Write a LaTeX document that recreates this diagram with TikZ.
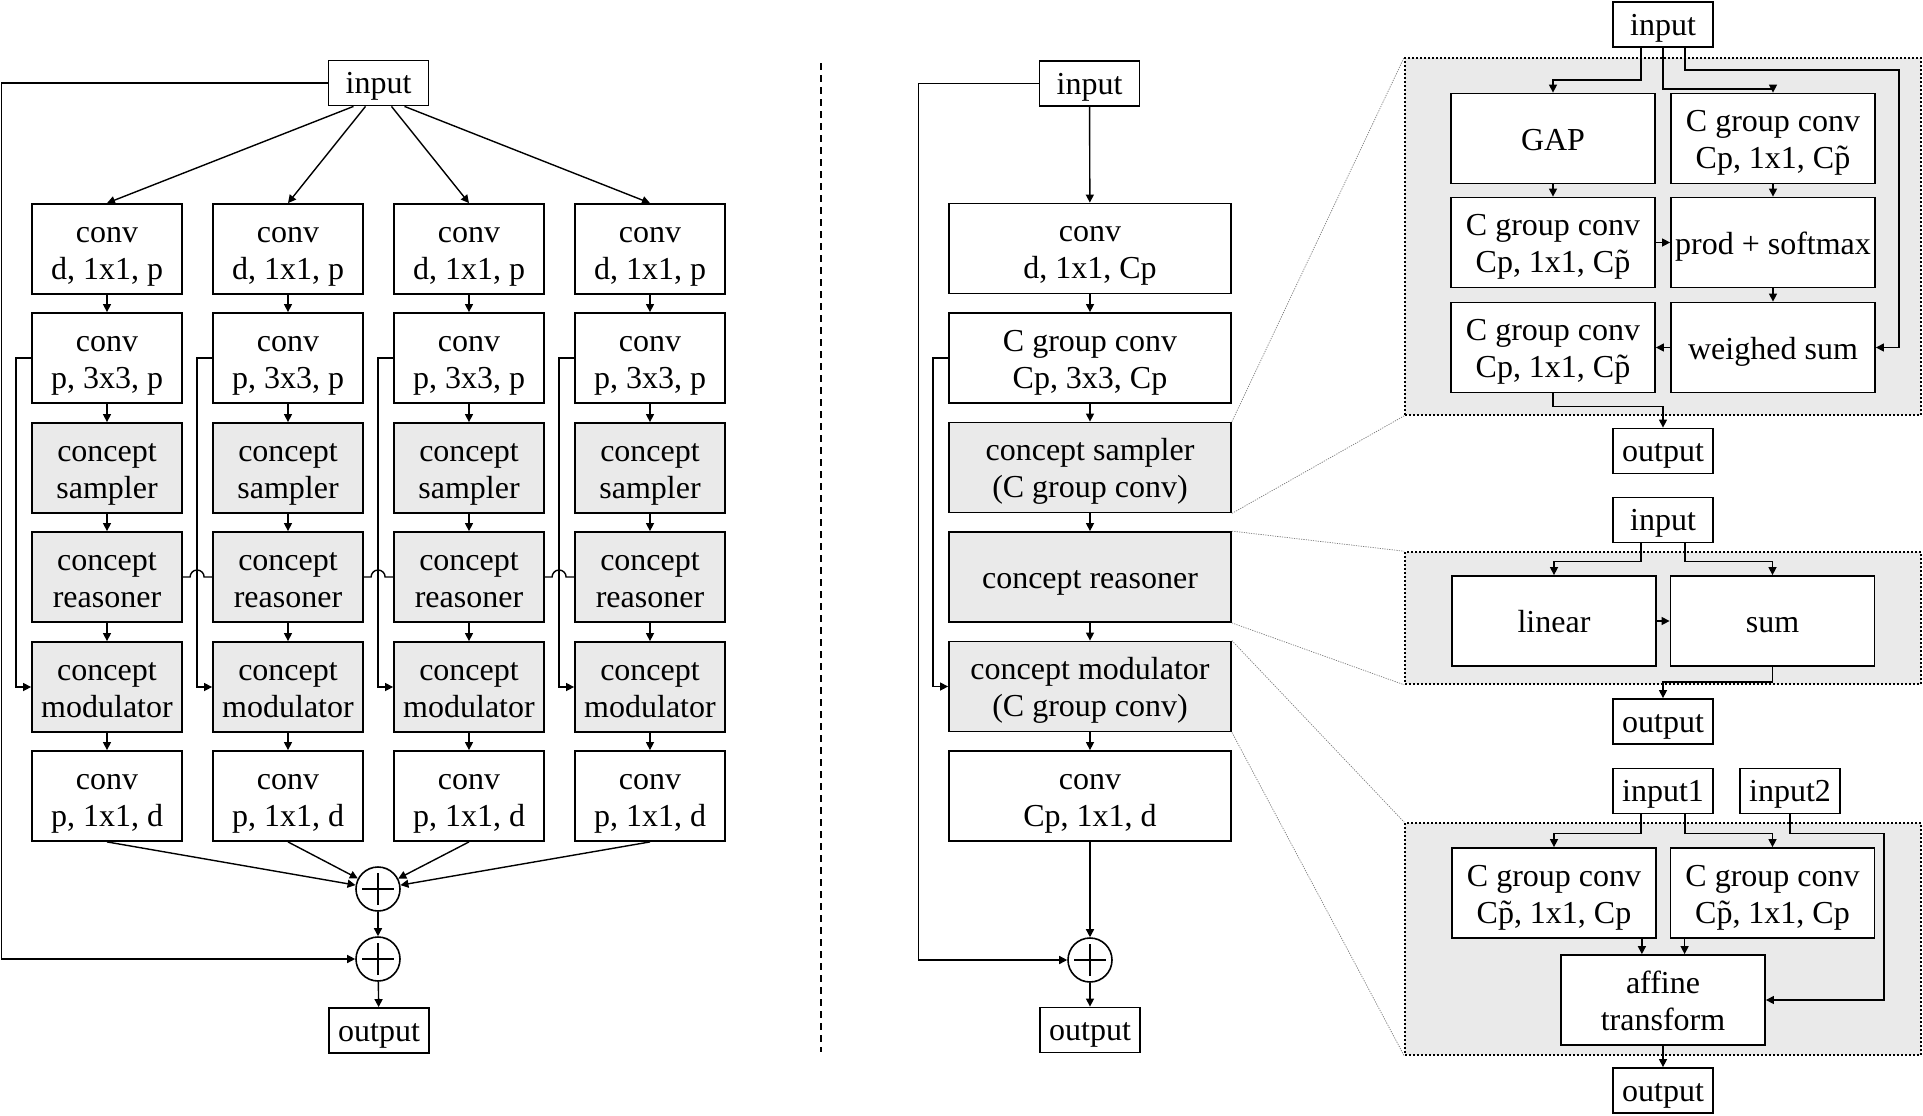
\documentclass[tikz,border=0pt]{standalone}
\usepackage{fontspec}
\setmainfont{Liberation Serif}
\usetikzlibrary{arrows.meta,calc}
\definecolor{ink}{HTML}{000000}
\definecolor{shade}{HTML}{EAEAEA}
\definecolor{guide}{HTML}{7A7A7A}

\begin{document}
\begin{tikzpicture}[
  x=0.5pt, y=-0.5pt,
  font=\fontsize{16}{18.5}\selectfont,
  strut top/.store in=\boxtop, strut top=33.5pt,
  box/.style    = {draw=ink, line width=0.9pt, align=center, inner sep=0pt,
                   minimum width=75pt, minimum height=45pt, fill=white,
                   execute at begin node={\rule{0pt}{\boxtop}},
                   execute at end node={\rule[-3.5pt]{0pt}{3.5pt}}},
  one/.style    = {strut top=15pt},
  cbox/.style   = {box, fill=shade},
  wide/.style   = {box, minimum width=141pt},
  wcbox/.style  = {wide, fill=shade},
  sub/.style    = {box, minimum width=102pt},
  io/.style     = {box, strut top=14.3pt, minimum width=50pt, minimum height=22.5pt},
  plus/.style   = {circle, draw=ink, line width=0.8pt, minimum size=22pt, inner sep=0pt,
                   path picture={\draw[line width=0.7pt] (path picture bounding box.center)
                     +(-8pt,0) -- +(8pt,0) +(0,-8pt) -- +(0,8pt);}},
  arr/.style    = {-{Triangle[length=4pt,width=4pt]}, draw=ink, line width=0.7pt},
  link/.style   = {draw=ink, line width=0.7pt},
  region/.style = {draw=ink, fill=shade, line width=0.8pt, dash pattern=on 1pt off 1pt,
                   inner sep=0pt, minimum width=258pt},
  zoomline/.style = {draw=guide, line width=0.35pt, dash pattern=on 0.6pt off 0.6pt},
  divider/.style  = {draw=ink, line width=1.3pt, dash pattern=on 3.5pt off 2.5pt},
]
\useasboundingbox (0,0) rectangle (1923,1115);

% ---------- left: four branches ----------
\node[io] (inL) at (378.5,83) {input};
\node[plus] (sumL) at (378,889) {};
\node[plus] (skipL) at (378,959) {};
\node[io] (outL) at (379,1030.5) {output};

\foreach \k/\x/\o in {1/107/-25, 2/288/-13, 3/469/13, 4/650/26} {
  \node[box]  (r\k)  at (\x,249) {conv\\d, 1x1, p};
  \node[box]  (s\k)  at (\x,358) {conv\\p, 3x3, p};
  \node[cbox] (cs\k) at (\x,468) {concept\\sampler};
  \node[cbox] (cr\k) at (\x,577) {concept\\reasoner};
  \node[cbox] (cm\k) at (\x,687) {concept\\modulator};
  \node[box]  (e\k)  at (\x,796) {conv\\p, 1x1, d};
  \draw[arr] ($(inL.south)+(\o,0)$) -- (r\k.north);
  \draw[arr] (r\k) -- (s\k);
  \draw[arr] (s\k) -- (cs\k);
  \draw[arr] (cs\k) -- (cr\k);
  \draw[arr] (cr\k) -- (cm\k);
  \draw[arr] (cm\k) -- (e\k);
  \draw[arr] (s\k.west) -- ++(-15,0) |- (cm\k.west);
  \draw[arr] (e\k.south) -- (sumL);
}
\foreach \a/\b in {1/2, 2/3, 3/4}
  \draw[link] (cr\a.east) -- ([xshift=-11pt]cr\b.west)
    arc[start angle=180, end angle=0, radius=3.5pt] -- (cr\b.west);

\draw[arr] (sumL) -- (skipL);
\draw[arr] (skipL) -- (outL);
\draw[arr] (inL.west) -- ++(-326,0) |- (skipL);

\draw[divider] (821,63) -- (821,1052);

% ---------- middle: grouped block ----------
\node[io]    (inM) at (1089.5,83.5) {input};
\node[wide]  (m1)  at (1090,248.5) {conv\\d, 1x1, Cp};
\node[wide]  (m2)  at (1090,358)   {C group conv\\Cp, 3x3, Cp};
\node[wcbox] (m3)  at (1090,467.5) {concept sampler\\(C group conv)};
\node[wcbox, one] (m4) at (1090,577) {concept reasoner};
\node[wcbox] (m5)  at (1090,686.5) {concept modulator\\(C group conv)};
\node[wide]  (m6)  at (1090,796)   {conv\\Cp, 1x1, d};
\node[plus]  (sumM) at (1090,960) {};
\node[io]    (outM) at (1090,1030) {output};

\draw[arr] (inM) -- (m1);
\draw[arr] (m1) -- (m2);
\draw[arr] (m2) -- (m3);
\draw[arr] (m3) -- (m4);
\draw[arr] (m4) -- (m5);
\draw[arr] (m5) -- (m6);
\draw[arr] (m6) -- (sumM);
\draw[arr] (sumM) -- (outM);
\draw[arr] (m2.west) -- ++(-15,0) |- (m5.west);
\draw[arr] (inM.west) -- ++(-120,0) |- (sumM);

% ---------- right: detail panels ----------
\node[region, minimum height=178.5pt] (regA) at (1663,236.5) {};
\node[region, minimum height=66pt]    (regB) at (1663,618) {};
\node[region, minimum height=116pt]   (regC) at (1663,939) {};

\draw[zoomline] (m3.north east) -- (regA.north west);
\draw[zoomline] (m3.south east) -- (regA.south west);
\draw[zoomline] (m4.north east) -- (regB.north west);
\draw[zoomline] (m4.south east) -- (regB.south west);
\draw[zoomline] (m5.north east) -- (regC.north west);
\draw[zoomline] (m5.south east) -- (regC.south west);

% sampler
\node[io]       (inA)    at (1663,24.5)  {input};
\node[sub, one] (gap)    at (1553,138.5) {GAP};
\node[sub]      (qconv)  at (1773,138.5) {C group conv\\Cp, 1x1, C\~{p}};
\node[sub]      (kconv)  at (1553,242.5) {C group conv\\Cp, 1x1, C\~{p}};
\node[sub, one] (prodsm) at (1773,242.5) {prod + softmax};
\node[sub]      (vconv)  at (1553,347.5) {C group conv\\Cp, 1x1, C\~{p}};
\node[sub, one] (wsum)   at (1773,347.5) {weighed sum};
\node[io]       (outA)   at (1663,451)   {output};

\draw[arr] ($(inA.south)+(-22,0)$) -- ++(0,32) -| (gap.north);
\draw[arr] (inA.south) -- ++(0,41) -| (qconv.north);
\draw[arr] ($(inA.south)+(22,0)$) -- ++(0,22) -- ++(214,0) |- (wsum.east);
\draw[arr] (gap) -- (kconv);
\draw[arr] (qconv) -- (prodsm);
\draw[arr] (kconv) -- (prodsm);
\draw[arr] (prodsm) -- (wsum);
\draw[arr] (wsum) -- (vconv);
\draw[arr] (vconv.south) -- ++(0,13) -| (outA.north);

% reasoner
\node[io]       (inB)  at (1663,520)    {input};
\node[sub, one] (lin)  at (1554,621)    {linear};
\node[sub, one] (sumB) at (1772.5,621)  {sum};
\node[io]       (outB) at (1663,721.5)  {output};

\draw[arr] ($(inB.south)+(-22,0)$) -- ++(0,18) -| (lin.north);
\draw[arr] ($(inB.south)+(22,0)$) -- ++(0,18) -| (sumB.north);
\draw[arr] (lin) -- (sumB);
\draw[arr] (sumB.south) -- ++(0,15) -| (outB.north);

% modulator
\node[io]  (inC)  at (1663,791)    {input1};
\node[io]  (inD)  at (1790,791)    {input2};
\node[sub] (gcL)  at (1554,893)    {C group conv\\C\~{p}, 1x1, Cp};
\node[sub] (gcR)  at (1772.5,893)  {C group conv\\C\~{p}, 1x1, Cp};
\node[sub] (aff)  at (1663,1000)   {affine\\transform};
\node[io]  (outC) at (1663,1090.5) {output};

\draw[arr] ($(inC.south)+(-22,0)$) -- ++(0,19) -| (gcL.north);
\draw[arr] ($(inC.south)+(22,0)$) -- ++(0,19) -| (gcR.north);
\draw[arr] (inD.south) -- ++(0,19) -- ++(94,0) |- (aff.east);
\draw[arr] ($(gcL.south east)+(-15,0)$) coordinate (tl) -- (tl |- aff.north);
\draw[arr] ($(gcR.south west)+(15,0)$) coordinate (tr) -- (tr |- aff.north);
\draw[arr] (aff) -- (outC);

\end{tikzpicture}
\end{document}
